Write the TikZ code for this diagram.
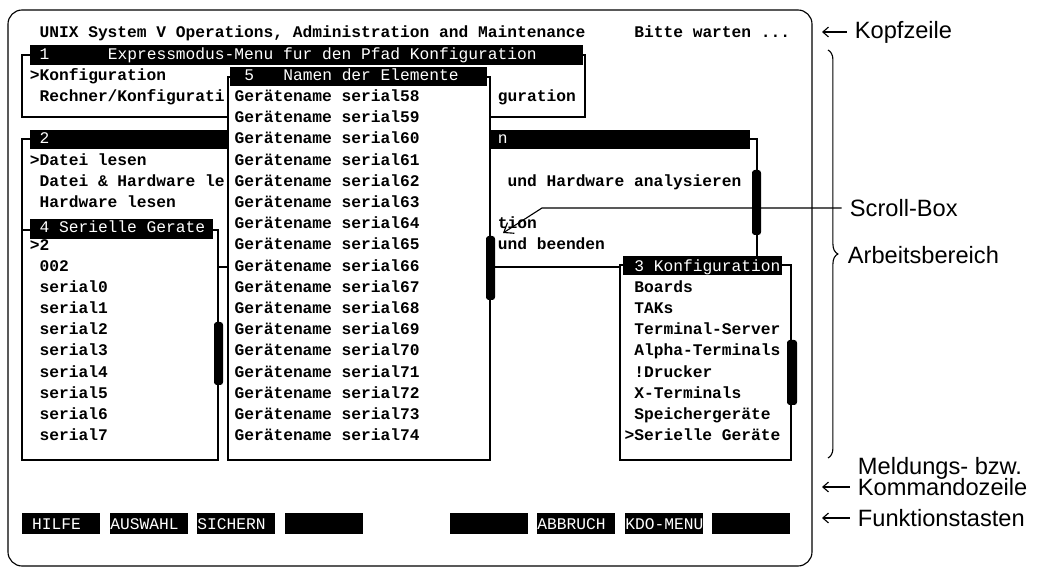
\documentclass[tikz,border=0pt]{standalone}
\usepackage{fontspec}
\setsansfont{Liberation Sans}
\setmonofont{Liberation Mono}
\usetikzlibrary{arrows.meta,decorations.pathreplacing}

\begin{document}
\begin{tikzpicture}[x=0.025cm,y=-0.025cm,
  term/.style={anchor=base west,inner sep=0pt,font=\ttfamily\bfseries\fontsize{11.55}{12}\selectfont},
  inv/.style={term,text=white,font=\ttfamily\mdseries\fontsize{11.55}{12}\selectfont},
  win/.style={draw,fill=white,line width=1.1pt},
  bar/.style={fill=black},
  sbox/.style={fill=black,rounded corners=2pt},
  fkey/.style={fill=black,text=white,anchor=north west,inner sep=0pt,text width=1.95cm,
    align=left,minimum height=0.53cm,font=\ttfamily\fontsize{11.55}{12}\selectfont},
  note/.style={anchor=west,inner sep=0pt,outer sep=6pt,font=\sffamily\fontsize{16.8}{17}\selectfont},
  >={Straight Barb[length=4pt,width=7pt]}]

\useasboundingbox (0,0) rectangle (1040,570);

% Bildschirm
\draw[line width=0.8pt,rounded corners=10pt] (8,10) rectangle (812,566);

\node[term] (head) at (39.25,38) {UNIX System V Operations, Administration and Maintenance};
\node[term] (wait) at (634,38) {Bitte warten ...};

% Fenster 1
\draw[win] (22,55) rectangle (585,117);
\fill[bar] (30,45) rectangle (583,65);
\node[inv] (t1) at (39.25,59.2) {1};
\node[inv] (t1b) at (107.5,59.2) {Expressmodus-Menu fur den Pfad Konfiguration};
\node[term] (konf) at (29.5,80.4) {>Konfiguration};
\node[term] (rech) at (39.25,101.6) {Rechner/Konfigurati};
\node[term] (rech2) at (497.5,101.6) {guration};

% Fenster 2
\draw[win] (22,139) rectangle (757,267);
\fill[bar] (30,130) rectangle (750,149);
\fill[sbox] (752,170) rectangle (761,235);
\node[inv] (t2) at (39.25,144) {2};
\node[inv] (t2b) at (497.5,144) {n};
\node[term] (dat1) at (29.5,165.2) {>Datei lesen};
\node[term] (dat2) at (39.25,186.4) {Datei \& Hardware le};
\node[term] (dat2b) at (507.25,186.4) {und Hardware analysieren};
\node[term] (hw) at (39.25,207.6) {Hardware lesen};
\node[term] (tion) at (497.5,228.8) {tion};
\node[term] (beend) at (497.5,250) {und beenden};

% Fenster 4
\draw[win] (22,230) rectangle (218,460);
\fill[bar] (30,219) rectangle (213,239);
\fill[sbox] (214,322) rectangle (223,385);
\node[inv] (t4) at (39.25,232.5) {4 Serielle Gerate};
\node[term] (s2) at (29.5,250.5) {>2};
\node[term] (s002) at (39.25,271.2) {002};
\foreach \n in {0,...,7}
  \node[term] (ser\n) at (39.25,{38+21.2*(12+\n)}) {serial\n};

% Fenster 5
\draw[win] (228,77) rectangle (490,460);
\fill[bar] (230,67) rectangle (487,86);
\fill[sbox] (486,236) rectangle (495,300);
\node[inv] (t5) at (244,80.6) {5};
\node[inv] (t5b) at (283,80.6) {Namen der Elemente};
\foreach \n [count=\k from 3] in {58,...,74}
  \node[term] (g\n) at (234.25,{38+21.2*\k}) {Gerätename serial\n};

% Fenster 3
\draw[win] (620,265) rectangle (791,460);
\fill[bar] (623,256) rectangle (782,275);
\fill[sbox] (787,340) rectangle (797,405);
\node[inv] (t3) at (634,271.2) {3 Konfiguration};
\node[term] (k1) at (634,292.4) {Boards};
\node[term] (k2) at (634,313.6) {TAKs};
\node[term] (k3) at (634,334.8) {Terminal-Server};
\node[term] (k4) at (634,356) {Alpha-Terminals};
\node[term] (k5) at (634,377.2) {!Drucker};
\node[term] (k6) at (634,398.4) {X-Terminals};
\node[term] (k7) at (634,419.6) {Speichergeräte};
\node[term] (k8) at (624.25,440.8) {>Serielle Geräte};

% Funktionstasten
\node[fkey] (f1) at (22,513) {\hspace*{7pt}HILFE};
\node[fkey] (f2) at (110,513) {AUSWAHL};
\node[fkey] (f3) at (197,513) {SICHERN};
\node[fkey] (f4) at (285,513) {};
\node[fkey] (f5) at (450,513) {};
\node[fkey] (f6) at (537,513) {ABBRUCH};
\node[fkey] (f7) at (625,513) {KDO-MENU};
\node[fkey] (f8) at (712,513) {};

% Beschriftung rechts
\node[note] (kopf) at (846.5,32) {Kopfzeile};
\coordinate (kopfE) at (822,32);
\draw[->,line width=0.8pt] (kopf) -- (kopfE);

\draw[decorate,decoration={brace,amplitude=7pt},line width=0.8pt] (828,50) -- (828,458);
\node[note] (arb) at (839.5,255) {Arbeitsbereich};

\node[note] (scroll) at (841.5,208) {Scroll-Box};
\coordinate (sbK) at (542,208);
\coordinate (sbE) at (503,233);
\draw[-{Straight Barb[length=6pt,width=9pt]},line width=0.8pt] (scroll) -- (sbK) -- (sbE);

\node[note] (meld) at (849.5,468) {Meldungs- bzw.};
\node[note] (komm) at (849.5,487) {Kommandozeile};
\coordinate (kommE) at (822,487);
\draw[->,line width=0.8pt] (komm) -- (kommE);

\node[note] (funk) at (849.5,518) {Funktionstasten};
\coordinate (funkE) at (822,518);
\draw[->,line width=0.8pt] (funk) -- (funkE);

\end{tikzpicture}
\end{document}
